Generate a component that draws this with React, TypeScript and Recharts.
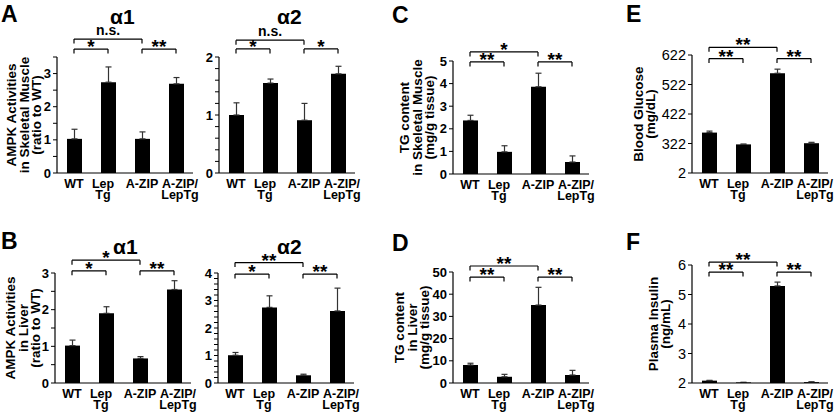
import React from "react";
import { Bar, BarChart, ErrorBar, ReferenceLine, XAxis, YAxis } from "recharts";

const FONT = '"Liberation Sans", Arial, Helvetica, sans-serif';

const groups = ["WT", "Lep\nTg", "A-ZIP", "A-ZIP/\nLepTg"];

// A: AMPK activities in skeletal muscle (ratio to WT)
const muscleAlpha1 = [1.03, 2.74, 1.03, 2.69];
const muscleAlpha1Err = [0.29, 0.46, 0.21, 0.19];
const muscleAlpha2 = [1.0, 1.55, 0.91, 1.71];
const muscleAlpha2Err = [0.21, 0.07, 0.29, 0.13];

// B: AMPK activities in liver (ratio to WT)
const liverAlpha1 = [1.02, 1.9, 0.67, 2.55];
const liverAlpha1Err = [0.15, 0.18, 0.05, 0.24];
const liverAlpha2 = [1.01, 2.75, 0.28, 2.62];
const liverAlpha2Err = [0.1, 0.42, 0.04, 0.83];

// C, D: TG content (mg/g tissue)
const tgMuscle = [2.37, 0.98, 3.86, 0.53];
const tgMuscleErr = [0.23, 0.27, 0.6, 0.27];
const tgLiver = [8.1, 2.8, 35.1, 3.6];
const tgLiverErr = [0.8, 1.1, 8, 2.1];

// E: blood glucose (mg/dL), F: plasma insulin (ng/mL)
const glucose = [359, 319, 560, 323];
const glucoseErr = [5, 1, 14, 3];
const insulin = [2.08, 2.02, 5.29, 2.03];
const insulinErr = [0.01, 0, 0.13, 0.01];

// y ticks and their labels
const ticksA1 = [0, 0.5, 1, 1.5, 2, 2.5, 3, 3.5];
const labelsA1 = ["0", "", "1", "", "2", "", "3", ""];
const ticksA2 = [0, 0.2, 0.4, 0.6, 0.8, 1, 1.2, 1.4, 1.6, 1.8, 2];
const labelsA2 = ["0", "", "", "", "", "1", "", "", "", "", "2"];
const ticksB1 = [0, 0.5, 1, 1.5, 2, 2.5, 3];
const labelsB1 = ["0", "", "1", "", "2", "", "3"];
const ticksB2 = [0, 0.2, 0.4, 0.6, 0.8, 1, 1.2, 1.4, 1.6, 1.8, 2, 2.2, 2.4, 2.6, 2.8, 3, 3.2, 3.4, 3.6, 3.8, 4];
const labelsB2 = ["0", "", "", "", "", "1", "", "", "", "", "2", "", "", "", "", "3", "", "", "", "", "4"];
const ticksC = [0, 1, 2, 3, 4, 5];
const labelsC = ["0", "1", "2", "3", "4", "5"];
const ticksD = [0, 10, 20, 30, 40, 50];
const labelsD = ["0", "10", "20", "30", "40", "50"];
const ticksE = [222, 322, 422, 522, 622];
const labelsE = ["2", "322", "422", "522", "622"];
const ticksF = [2, 3, 4, 5, 6];
const labelsF = ["2", "3", "4", "5", "6"];

// significance brackets: group indexes, level in data units, text
const bracketsA1 = [
  { from: 0, to: 2, level: 4.04, text: "n.s." },
  { from: 0, to: 1, level: 3.74, text: "*" },
  { from: 2, to: 3, level: 3.74, text: "**" },
];
const bracketsA2 = [
  { from: 0, to: 2, level: 2.29, text: "n.s." },
  { from: 0, to: 1, level: 2.14, text: "*" },
  { from: 2, to: 3, level: 2.14, text: "*" },
];
const bracketsB1 = [
  { from: 0, to: 2, level: 3.35, text: "*" },
  { from: 0, to: 1, level: 3.06, text: "*" },
  { from: 2, to: 3, level: 3.06, text: "**" },
];
const bracketsB2 = [
  { from: 0, to: 2, level: 4.38, text: "**" },
  { from: 0, to: 1, level: 3.96, text: "*" },
  { from: 2, to: 3, level: 3.96, text: "**" },
];
const bracketsC = [
  { from: 0, to: 2, level: 5.4, text: "*" },
  { from: 0, to: 1, level: 4.96, text: "**" },
  { from: 2, to: 3, level: 4.96, text: "**" },
];
const bracketsD = [
  { from: 0, to: 2, level: 52.7, text: "**" },
  { from: 0, to: 1, level: 47.7, text: "**" },
  { from: 2, to: 3, level: 47.7, text: "**" },
];
const bracketsE = [
  { from: 0, to: 2, level: 648, text: "**" },
  { from: 0, to: 1, level: 610, text: "**" },
  { from: 2, to: 3, level: 610, text: "**" },
];
const bracketsF = [
  { from: 0, to: 2, level: 6.1, text: "**" },
  { from: 0, to: 1, level: 5.76, text: "**" },
  { from: 2, to: 3, level: 5.76, text: "**" },
];

const ML = 64;
const MT = 34;
const MR = 10;
const MB = 34;

// small horizontal nudges of the category labels, as in the figure
const labelShift = [0, -5, 0, 4];

function GroupTick(props: any) {
  const { x, y, payload, index } = props;
  const lines = String(payload.value).split("\n");
  const cx = x + (labelShift[index] ?? 0);
  return (
    <text x={cx} y={y} textAnchor="middle" fontFamily={FONT} fontSize={12.5} fontWeight="bold" fill="#000">
      {lines.map((t, i) => (
        <tspan key={i} x={cx} y={y + 15 + i * 10.5}>
          {t}
        </tspan>
      ))}
    </text>
  );
}

function AxisTitle(props: any) {
  const { viewBox, lines, gap } = props;
  if (!viewBox) return null;
  const cx = viewBox.x + viewBox.width - gap;
  const cy = viewBox.y + viewBox.height / 2;
  return (
    <g transform={`translate(${cx},${cy}) rotate(-90)`}>
      {lines.map((t: string, i: number) => (
        <text
          key={i}
          x={0}
          y={(i - (lines.length - 1) / 2) * 12.3}
          dy="0.35em"
          textAnchor="middle"
          fontFamily={FONT}
          fontSize={13.5}
          fontWeight="bold"
          fill="#000"
        >
          {t}
        </text>
      ))}
    </g>
  );
}

function BracketText(props: any) {
  const { viewBox, text } = props;
  if (!viewBox) return null;
  const star = text.includes("*");
  return (
    <text
      x={viewBox.x + viewBox.width / 2}
      y={viewBox.y + (star ? 4 : -4)}
      textAnchor="middle"
      fontFamily={FONT}
      fontSize={star ? 19 : 14}
      fontWeight="bold"
      fill="#000"
    >
      {text}
    </text>
  );
}

function Panel(p: any) {
  const data = p.values.map((v: number, i: number) => ({ group: groups[i], value: v, err: [0, p.errors[i]] }));
  const drop = (4.5 * (p.domain[1] - p.domain[0])) / p.h;
  const line = { stroke: "#000", strokeWidth: 1.2, ifOverflow: "visible" as const };
  return (
    <div style={{ position: "absolute", left: p.x - ML, top: p.y - MT }}>
      <BarChart
        width={ML + p.w + MR}
        height={MT + p.h + MB}
        data={data}
        margin={{ top: MT, right: MR, bottom: 0, left: 0 }}
        barCategoryGap={0}
      >
        <XAxis
          dataKey="group"
          height={MB}
          interval={0}
          tickLine={false}
          tickSize={0}
          tickMargin={0}
          axisLine={{ stroke: "#000", strokeWidth: 1.2 }}
          tick={<GroupTick />}
        />
        <YAxis
          type="number"
          width={ML}
          domain={p.domain}
          ticks={p.ticks}
          interval={0}
          allowDataOverflow
          tickFormatter={(v: number) => p.tickLabels[p.ticks.indexOf(v)] ?? ""}
          tickSize={4}
          tickMargin={2}
          axisLine={{ stroke: "#000", strokeWidth: 1.2 }}
          tickLine={{ stroke: "#000" }}
          tick={{
            fill: "#000",
            fontSize: p.plainTicks ? 14.5 : 13,
            fontWeight: p.plainTicks ? "normal" : "bold",
            fontFamily: FONT,
          }}
          label={<AxisTitle lines={p.title} gap={p.titleGap} />}
        />
        <Bar dataKey="value" fill="#000" barSize={15} isAnimationActive={false}>
          <ErrorBar dataKey="err" width={3} stroke="#333" strokeWidth={1.2} direction="y" isAnimationActive={false} />
        </Bar>
        {p.brackets.flatMap((b: any, k: number) => [
          <ReferenceLine
            key={`h${k}`}
            {...line}
            segment={[
              { x: groups[b.from], y: b.level },
              { x: groups[b.to], y: b.level },
            ]}
            label={<BracketText text={b.text} />}
          />,
          <ReferenceLine
            key={`l${k}`}
            {...line}
            segment={[
              { x: groups[b.from], y: b.level },
              { x: groups[b.from], y: b.level - drop },
            ]}
          />,
          <ReferenceLine
            key={`r${k}`}
            {...line}
            segment={[
              { x: groups[b.to], y: b.level },
              { x: groups[b.to], y: b.level - drop },
            ]}
          />,
        ])}
      </BarChart>
    </div>
  );
}

const musclePanel = ["AMPK Activities", "in Skeletal Muscle", "(ratio to WT)"];
const liverPanel = ["AMPK Activities", "in Liver", "(ratio to WT)"];

export default function App() {
  const letter = { fontFamily: FONT, fontSize: 23, fontWeight: "bold" as const, fill: "#000" };
  const alpha = { fontFamily: FONT, fontSize: 21, fontWeight: "bold" as const, fill: "#000" };
  return (
    <div style={{ position: "absolute", left: 0, top: 0, width: 840, height: 413, background: "#fff" }}>
      <svg width={840} height={413} style={{ position: "absolute", left: 0, top: 0 }}>
        <text x={1} y={22} {...letter}>A</text>
        <text x={1} y={249} {...letter}>B</text>
        <text x={392} y={23} {...letter}>C</text>
        <text x={392} y={251} {...letter}>D</text>
        <text x={626} y={22} {...letter}>E</text>
        <text x={626} y={250} {...letter}>F</text>
        <text x={110} y={24} {...alpha}>α1</text>
        <text x={277} y={24} {...alpha}>α2</text>
        <text x={113} y={254} {...alpha}>α1</text>
        <text x={277} y={254} {...alpha}>α2</text>
      </svg>
      <Panel x={57} y={57} w={136} h={116} values={muscleAlpha1} errors={muscleAlpha1Err} domain={[0, 3.5]}
        ticks={ticksA1} tickLabels={labelsA1} brackets={bracketsA1} title={musclePanel} titleGap={33} />
      <Panel x={219} y={57} w={136} h={116} values={muscleAlpha2} errors={muscleAlpha2Err} domain={[0, 2]}
        ticks={ticksA2} tickLabels={labelsA2} brackets={bracketsA2} title={[]} titleGap={0} />
      <Panel x={453} y={61} w={136} h={113} values={tgMuscle} errors={tgMuscleErr} domain={[0, 5]}
        ticks={ticksC} tickLabels={labelsC} brackets={bracketsC}
        title={["TG content", "in Skeletal Muscle", "(mg/g tissue)"]} titleGap={36} />
      <Panel x={692} y={55} w={136} h={118} values={glucose} errors={glucoseErr} domain={[222, 622]}
        ticks={ticksE} tickLabels={labelsE} brackets={bracketsE} plainTicks
        title={["Blood Glucose", "(mg/dL)"]} titleGap={48} />
      <Panel x={55} y={273} w={136} h={110} values={liverAlpha1} errors={liverAlpha1Err} domain={[0, 3]}
        ticks={ticksB1} tickLabels={labelsB1} brackets={bracketsB1} title={liverPanel} titleGap={32} />
      <Panel x={218} y={273} w={136} h={110} values={liverAlpha2} errors={liverAlpha2Err} domain={[0, 4]}
        ticks={ticksB2} tickLabels={labelsB2} brackets={bracketsB2} title={[]} titleGap={0} />
      <Panel x={453} y={272} w={136} h={111} values={tgLiver} errors={tgLiverErr} domain={[0, 50]}
        ticks={ticksD} tickLabels={labelsD} brackets={bracketsD}
        title={["TG content", "in Liver", "(mg/g tissue)"]} titleGap={41} />
      <Panel x={692} y={265} w={136} h={118} values={insulin} errors={insulinErr} domain={[2, 6]}
        ticks={ticksF} tickLabels={labelsF} brackets={bracketsF} plainTicks
        title={["Plasma Insulin", "(ng/mL)"]} titleGap={33} />
    </div>
  );
}
